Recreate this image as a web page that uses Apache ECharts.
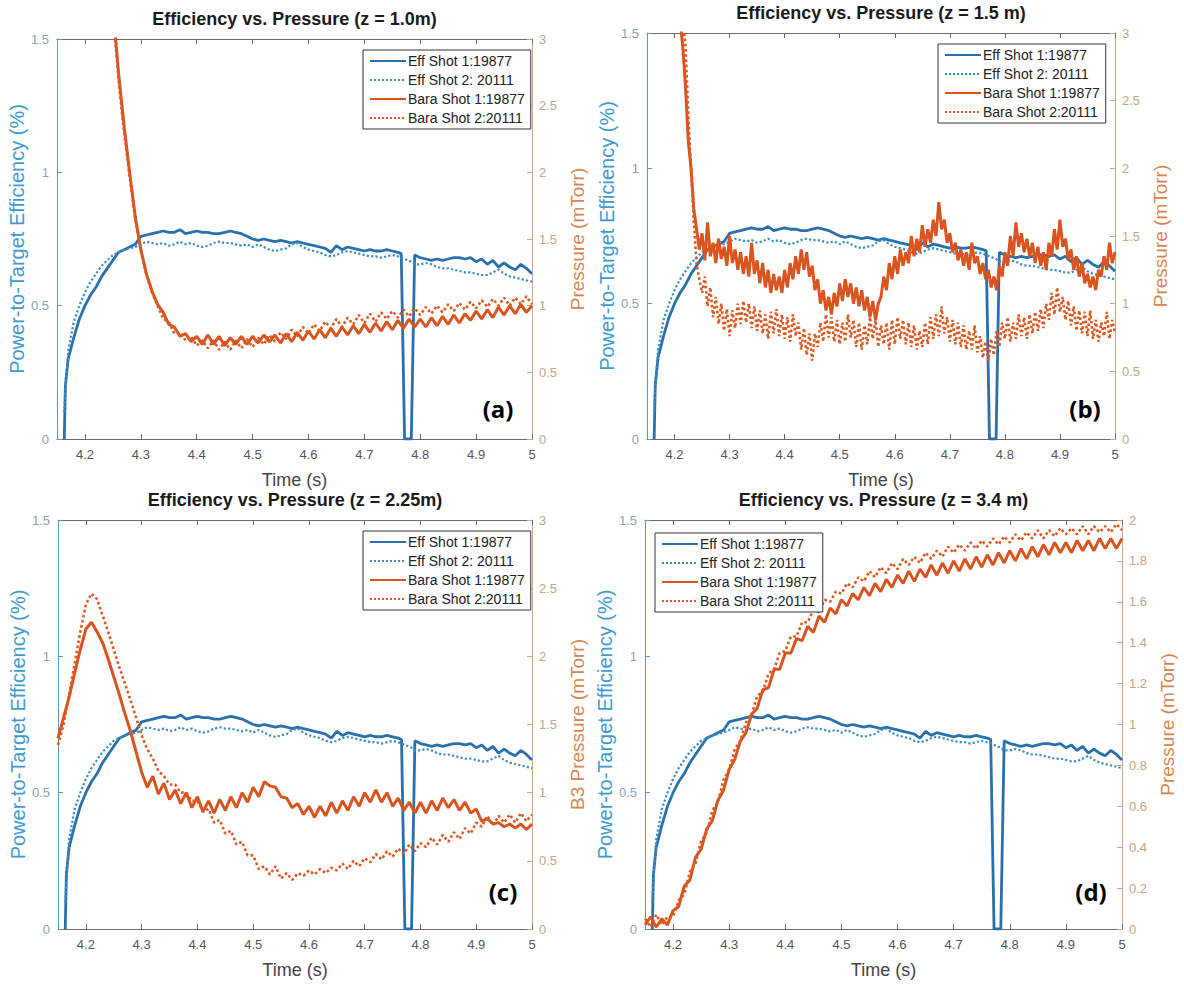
<!DOCTYPE html>
<html><head><meta charset="utf-8">
<script src="https://cdn.jsdelivr.net/npm/echarts@6/dist/echarts.min.js"></script>
<style>html,body{margin:0;padding:0;background:#fff}#c{width:1184px;height:987px}</style>
</head><body><div id="c"></div>
<script>
// ---------- DATA ----------
const xTicks = [4.2,4.3,4.4,4.5,4.6,4.7,4.8,4.9,5];
const seriesNames = ['Eff Shot 1:19877','Eff Shot 2: 20111','Bara Shot 1:19877','Bara Shot 2:20111'];
const panelTitles = ['Efficiency vs. Pressure (z = 1.0m)','Efficiency vs. Pressure (z = 1.5 m)','Efficiency vs. Pressure (z = 2.25m)','Efficiency vs. Pressure (z = 3.4 m)'];
const panelLetters = ['(a)','(b)','(c)','(d)'];
const rightNames = ['Pressure (mTorr)','Pressure (mTorr)','B3 Pressure (mTorr)','Pressure (mTorr)'];
const rightMax = [3,3,3,2];
const rightStep = [0.5,0.5,0.5,0.2];

const effTime = [4.163,4.165,4.17,4.18,4.19,4.20,4.21,4.22,4.23,4.24,4.25,4.26,4.27,4.28,4.29,4.30,4.31,4.32,4.33,4.34,4.35,4.36,4.37,4.38,4.39,4.40,4.41,4.42,4.43,4.44,4.45,4.46,4.47,4.48,4.49,4.50,4.51,4.52,4.53,4.54,4.55,4.56,4.57,4.58,4.59,4.60,4.61,4.62,4.63,4.64,4.65,4.66,4.67,4.68,4.69,4.70,4.71,4.72,4.73,4.74,4.75,4.76,4.766,4.772,4.784,4.79,4.80,4.81,4.82,4.83,4.84,4.85,4.86,4.87,4.88,4.89,4.90,4.91,4.92,4.93,4.94,4.95,4.96,4.97,4.98,4.99,5.00];
const eff1 = [0,0.20,0.30,0.38,0.45,0.50,0.54,0.57,0.61,0.64,0.67,0.70,0.71,0.72,0.73,0.76,0.765,0.77,0.775,0.78,0.775,0.775,0.785,0.77,0.775,0.78,0.775,0.775,0.77,0.77,0.775,0.78,0.775,0.77,0.76,0.75,0.745,0.75,0.745,0.74,0.745,0.74,0.735,0.74,0.735,0.73,0.725,0.72,0.715,0.70,0.725,0.71,0.72,0.715,0.71,0.705,0.71,0.705,0.705,0.71,0.705,0.70,0.695,0,0,0.69,0.68,0.675,0.67,0.675,0.67,0.675,0.68,0.68,0.675,0.68,0.665,0.675,0.655,0.67,0.645,0.66,0.645,0.635,0.655,0.64,0.62];
const eff2 = [0.10,0.18,0.33,0.44,0.50,0.55,0.59,0.62,0.65,0.67,0.69,0.70,0.71,0.715,0.72,0.73,0.74,0.735,0.73,0.735,0.725,0.73,0.74,0.73,0.735,0.725,0.72,0.725,0.735,0.74,0.735,0.735,0.73,0.725,0.73,0.72,0.73,0.72,0.71,0.705,0.71,0.715,0.73,0.735,0.72,0.71,0.705,0.70,0.69,0.685,0.69,0.70,0.705,0.70,0.695,0.69,0.685,0.685,0.68,0.685,0.69,0.685,0.68,0.675,0.665,0.655,0.655,0.66,0.655,0.645,0.64,0.64,0.635,0.63,0.625,0.625,0.62,0.615,0.615,0.625,0.635,0.62,0.61,0.605,0.60,0.595,0.59];

const pTime = [4.15,4.16,4.17,4.18,4.19,4.20,4.21,4.22,4.23,4.24,4.25,4.26,4.27,4.28,4.29,4.30,4.31,4.32,4.33,4.34,4.35,4.36,4.37,4.38,4.39,4.40,4.41,4.42,4.43,4.44,4.45,4.46,4.47,4.48,4.49,4.50,4.51,4.52,4.53,4.54,4.55,4.56,4.57,4.58,4.59,4.60,4.61,4.62,4.63,4.64,4.65,4.66,4.67,4.68,4.69,4.70,4.71,4.72,4.73,4.74,4.75,4.76,4.77,4.78,4.79,4.80,4.81,4.82,4.83,4.84,4.85,4.86,4.87,4.88,4.89,4.90,4.91,4.92,4.93,4.94,4.95,4.96,4.97,4.98,4.99,5.00];

const baraA1 = [null,null,null,null,null,null,null,null,null,
3.6,3.25,2.75,2.35,2.0,1.67,1.42,1.24,1.11,1.01,
0.95,0.86,0.84,0.77,0.79,0.73,0.77,0.71,0.78,0.71,
0.77,0.70,0.76,0.71,0.77,0.71,0.77,0.72,0.78,0.73,
0.78,0.72,0.79,0.73,0.80,0.74,0.81,0.75,0.82,0.76,
0.83,0.77,0.84,0.78,0.85,0.79,0.86,0.80,0.87,0.81,
0.88,0.82,0.89,0.83,0.90,0.84,0.90,0.84,0.91,0.85,
0.92,0.86,0.93,0.87,0.94,0.89,0.96,0.90,0.97,0.91,
0.99,0.93,1.00,0.94,1.01,0.95,1.00];
const baraA2 = [null,null,null,null,null,null,null,null,null,
3.5,3.2,2.7,2.3,1.97,1.65,1.41,1.23,1.10,1.00,
0.90,0.88,0.79,0.80,0.74,0.77,0.70,0.74,0.68,0.74,
0.67,0.73,0.67,0.74,0.68,0.75,0.69,0.76,0.71,0.78,
0.73,0.80,0.75,0.82,0.77,0.84,0.79,0.86,0.81,0.88,
0.83,0.90,0.84,0.91,0.86,0.93,0.87,0.94,0.88,0.95,
0.90,0.96,0.91,0.97,0.92,0.98,0.93,0.99,0.94,1.00,
0.95,1.01,0.96,1.02,0.97,1.03,0.98,1.04,0.99,1.05,
1.00,1.06,1.00,1.06,1.01,1.07,1.01];

const tB = [4.200,4.205,4.210,4.215,4.220,4.225,4.230,4.235,4.240,4.245,4.250,4.255,4.260,4.265,4.270,4.275,4.280,4.285,4.290,4.295,
4.300,4.305,4.310,4.315,4.320,4.325,4.330,4.335,4.340,4.345,4.350,4.355,4.360,4.365,4.370,4.375,4.380,4.385,4.390,4.395,
4.400,4.405,4.410,4.415,4.420,4.425,4.430,4.435,4.440,4.445,4.450,4.455,4.460,4.465,4.470,4.475,4.480,4.485,4.490,4.495,
4.500,4.505,4.510,4.515,4.520,4.525,4.530,4.535,4.540,4.545,4.550,4.555,4.560,4.565,4.570,4.575,4.580,4.585,4.590,4.595,
4.600,4.605,4.610,4.615,4.620,4.625,4.630,4.635,4.640,4.645,4.650,4.655,4.660,4.665,4.670,4.675,4.680,4.685,4.690,4.695,
4.700,4.705,4.710,4.715,4.720,4.725,4.730,4.735,4.740,4.745,4.750,4.755,4.760,4.765,4.770,4.775,4.780,4.785,4.790,4.795,
4.800,4.805,4.810,4.815,4.820,4.825,4.830,4.835,4.840,4.845,4.850,4.855,4.860,4.865,4.870,4.875,4.880,4.885,4.890,4.895,
4.900,4.905,4.910,4.915,4.920,4.925,4.930,4.935,4.940,4.945,4.950,4.955,4.960,4.965,4.970,4.975,4.980,4.985,4.990,4.995,5.000];
const baraB1 = [3.6,3.3,3.1,2.9,2.6,2.2,2.0,1.7,1.55,1.40,1.52,1.32,1.60,1.35,1.45,1.30,1.48,1.33,1.42,1.28,
1.50,1.30,1.40,1.25,1.38,1.22,1.35,1.20,1.45,1.22,1.32,1.15,1.30,1.12,1.25,1.08,1.22,1.10,1.20,1.08,
1.25,1.12,1.30,1.18,1.35,1.22,1.40,1.25,1.38,1.20,1.28,1.10,1.18,1.00,1.10,0.95,1.05,0.92,1.08,0.98,
1.15,1.02,1.18,1.05,1.15,1.00,1.12,0.98,1.10,0.95,1.05,0.90,1.02,0.88,1.00,1.05,1.20,1.10,1.30,1.18,
1.35,1.22,1.40,1.28,1.38,1.30,1.50,1.35,1.48,1.38,1.58,1.42,1.55,1.45,1.62,1.50,1.75,1.55,1.62,1.45,
1.52,1.38,1.45,1.32,1.40,1.28,1.38,1.25,1.45,1.30,1.35,1.22,1.30,1.18,1.25,1.12,1.20,1.10,1.28,1.20,
1.38,1.28,1.50,1.35,1.60,1.42,1.52,1.38,1.48,1.35,1.45,1.30,1.42,1.28,1.38,1.25,1.45,1.35,1.55,1.40,
1.62,1.42,1.48,1.32,1.40,1.25,1.35,1.20,1.30,1.15,1.22,1.12,1.20,1.10,1.25,1.20,1.35,1.25,1.45,1.30,1.38];
const baraB2 = [3.8,3.5,3.3,3.1,2.9,2.4,2.0,1.6,1.30,1.18,1.08,1.20,0.98,1.12,0.90,1.05,0.85,1.00,0.80,0.96,
0.76,0.95,0.82,1.00,0.85,1.02,0.86,1.00,0.82,0.98,0.80,0.95,0.78,0.92,0.74,0.94,0.78,0.96,0.76,0.92,
0.74,0.90,0.72,0.92,0.76,0.86,0.66,0.82,0.62,0.78,0.58,0.78,0.68,0.86,0.72,0.92,0.75,0.90,0.72,0.88,
0.70,0.86,0.72,0.92,0.75,0.88,0.68,0.86,0.66,0.84,0.70,0.90,0.74,0.88,0.68,0.84,0.70,0.86,0.66,0.88,
0.70,0.90,0.74,0.88,0.70,0.86,0.68,0.84,0.66,0.80,0.68,0.86,0.70,0.90,0.74,0.92,0.76,0.98,0.78,0.90,
0.72,0.88,0.70,0.86,0.68,0.84,0.66,0.80,0.66,0.84,0.64,0.76,0.60,0.72,0.58,0.74,0.62,0.80,0.68,0.86,
0.74,0.90,0.72,0.86,0.74,0.92,0.76,0.90,0.74,0.92,0.78,0.94,0.80,0.96,0.82,1.00,0.88,1.08,0.92,1.12,
0.94,1.05,0.88,1.02,0.84,0.98,0.80,0.95,0.78,0.94,0.76,0.95,0.74,0.88,0.72,0.86,0.76,0.94,0.74,0.88,0.78];

const baraC1 = [1.40,1.55,1.70,1.88,2.05,2.20,2.25,2.18,2.10,1.98,
1.85,1.72,1.58,1.45,1.30,1.15,1.04,1.12,0.99,1.07,
0.95,1.02,0.92,1.00,0.89,0.97,0.86,0.94,0.85,0.95,
0.87,0.97,0.89,1.00,0.93,1.04,0.97,1.08,1.05,1.04,
0.97,0.96,0.89,0.92,0.84,0.90,0.82,0.90,0.83,0.93,
0.85,0.94,0.87,0.97,0.90,1.00,0.93,1.02,0.93,1.00,
0.90,0.96,0.87,0.93,0.85,0.93,0.85,0.94,0.87,0.96,
0.89,0.95,0.87,0.93,0.85,0.88,0.79,0.81,0.77,0.78,
0.75,0.77,0.74,0.77,0.73,0.77];
const baraC2 = [1.35,1.50,1.72,1.95,2.18,2.38,2.46,2.42,2.30,2.18,
2.05,1.92,1.80,1.68,1.55,1.42,1.32,1.25,1.16,1.12,
1.06,1.06,1.00,1.00,0.94,0.94,0.86,0.88,0.78,0.80,
0.70,0.72,0.62,0.64,0.54,0.54,0.44,0.46,0.40,0.46,
0.37,0.41,0.36,0.41,0.39,0.43,0.40,0.44,0.41,0.45,
0.43,0.48,0.44,0.50,0.46,0.52,0.49,0.55,0.51,0.57,
0.53,0.59,0.55,0.62,0.57,0.63,0.60,0.67,0.62,0.69,
0.64,0.71,0.66,0.74,0.70,0.78,0.75,0.83,0.76,0.83,
0.78,0.84,0.78,0.85,0.79,0.84];

const baraD1 = [0.02,0.06,0.01,0.05,0.02,0.09,0.11,0.21,0.24,0.35,
0.39,0.49,0.53,0.63,0.68,0.78,0.83,0.92,0.96,1.05,
1.08,1.17,1.18,1.27,1.27,1.35,1.35,1.42,1.41,1.48,
1.45,1.53,1.50,1.57,1.54,1.61,1.58,1.64,1.61,1.67,
1.63,1.69,1.65,1.71,1.67,1.73,1.69,1.75,1.70,1.76,
1.72,1.78,1.73,1.79,1.74,1.80,1.75,1.81,1.76,1.82,
1.77,1.83,1.78,1.84,1.79,1.85,1.80,1.86,1.81,1.87,
1.82,1.88,1.83,1.89,1.84,1.89,1.84,1.90,1.85,1.90,
1.85,1.91,1.86,1.91,1.86,1.91];
const baraD2 = [0.05,0.01,0.07,0.02,0.06,0.06,0.14,0.17,0.28,0.32,
0.43,0.47,0.58,0.62,0.73,0.78,0.88,0.92,1.01,1.05,
1.14,1.16,1.25,1.27,1.35,1.36,1.43,1.43,1.50,1.50,
1.56,1.55,1.61,1.60,1.65,1.64,1.69,1.67,1.72,1.70,
1.75,1.72,1.77,1.74,1.79,1.76,1.81,1.78,1.82,1.79,
1.84,1.81,1.85,1.82,1.87,1.84,1.88,1.85,1.89,1.86,
1.90,1.87,1.91,1.88,1.92,1.89,1.93,1.90,1.94,1.91,
1.95,1.91,1.95,1.92,1.96,1.93,1.96,1.93,1.97,1.93,
1.97,1.94,1.97,1.94,1.98,1.95];

// ---------- LAYOUT / STYLE ----------
const FONT = '"Liberation Sans", Arial, sans-serif';
const grids = [
  {left:57, top:39, width:475, height:400},
  {left:647, top:33, width:468, height:406},
  {left:58, top:520, width:474, height:409},
  {left:645, top:520, width:477, height:409}
];
const legendPos = [{left:363, top:50},{left:938, top:44},{left:363, top:531},{left:655, top:533}];
const letterPos = [[498,408],[1085,408],[503,891],[1091,891]];

const C_EFF1 = '#2a70ad', C_EFF2 = '#3b8dc2', C_BAR1 = '#d9541e', C_BAR2 = '#dc5a22';
const LEFT_AX = '#5f95bd', RIGHT_AX = '#c9a888';

const pair = (t, v) => t.map((x, i) => [x, v[i] === undefined ? null : v[i]]);
const pressure = [
  [pair(pTime, baraA1), pair(pTime, baraA2)],
  [pair(tB, baraB1), pair(tB, baraB2)],
  [pair(pTime, baraC1), pair(pTime, baraC2)],
  [pair(pTime, baraD1), pair(pTime, baraD2)]
];

const option = {
  backgroundColor:'#fff',
  animation:false,
  grid: grids.map(g => Object.assign({containLabel:false}, g)),
  xAxis: [], yAxis: [], series: [], legend: [], graphic: []
};

grids.forEach((g, i) => {
  option.xAxis.push({
    type:'value', gridIndex:i, position:'bottom', min:4.15, max:5,
    axisLine:{show:true, onZero:false, lineStyle:{color:'#6a6a6a', width:1}},
    axisTick:{show:true, inside:true, length:5, customValues:xTicks, lineStyle:{color:'#6a6a6a'}},
    axisLabel:{show:true, customValues:xTicks, color:'#555', fontSize:13, fontFamily:FONT, margin:9},
    splitLine:{show:false},
    name:'Time (s)', nameLocation:'middle', nameGap:32, nameMoveOverlap:false,
    nameTextStyle:{color:'#444', fontSize:18, fontFamily:FONT}
  });
  option.xAxis.push({
    type:'value', gridIndex:i, position:'top', min:4.15, max:5,
    axisLine:{show:true, onZero:false, lineStyle:{color:'#6a6a6a', width:1}},
    axisTick:{show:true, inside:true, length:5, customValues:xTicks, lineStyle:{color:'#6a6a6a'}},
    axisLabel:{show:false}, splitLine:{show:false}
  });
  option.yAxis.push({
    type:'value', gridIndex:i, position:'left', min:0, max:1.5, interval:0.5,
    axisLine:{show:true, onZero:false, lineStyle:{color:LEFT_AX, width:1}},
    axisTick:{show:true, inside:true, length:5, lineStyle:{color:LEFT_AX}},
    axisLabel:{color:'#8aa2b4', fontSize:13, fontFamily:FONT, margin:8},
    splitLine:{show:false},
    name:'Power-to-Target Efficiency (%)', nameLocation:'middle', nameGap:30, nameMoveOverlap:false,
    nameTextStyle:{color:'#3e9bd0', fontSize:20, fontFamily:FONT}
  });
  option.yAxis.push({
    type:'value', gridIndex:i, position:'right', min:0, max:rightMax[i], interval:rightStep[i],
    axisLine:{show:true, onZero:false, lineStyle:{color:RIGHT_AX, width:1}},
    axisTick:{show:true, inside:true, length:5, lineStyle:{color:RIGHT_AX}},
    axisLabel:{color:'#c6a486', fontSize:13, fontFamily:FONT, margin:7},
    splitLine:{show:false}
  });
  const xb = 2*i, yl = 2*i, yr = 2*i+1;
  option.series.push(
    {name:seriesNames[0], type:'line', xAxisIndex:xb, yAxisIndex:yl, data:pair(effTime, eff1), symbol:'none', showSymbol:false, clip:true,
      lineStyle:{color:C_EFF1, width:2.8}, itemStyle:{color:C_EFF1}},
    {name:seriesNames[1], type:'line', xAxisIndex:xb, yAxisIndex:yl, data:pair(effTime, eff2), symbol:'none', showSymbol:false, clip:true,
      lineStyle:{color:C_EFF2, width:2.2, type:'dotted'}, itemStyle:{color:C_EFF2}},
    {name:seriesNames[2], type:'line', xAxisIndex:xb, yAxisIndex:yr, data:pressure[i][0], symbol:'none', showSymbol:false, clip:true, connectNulls:false,
      lineStyle:{color:C_BAR1, width:3}, itemStyle:{color:C_BAR1}},
    {name:seriesNames[3], type:'line', xAxisIndex:xb, yAxisIndex:yr, data:pressure[i][1], symbol:'none', showSymbol:false, clip:true, connectNulls:false,
      lineStyle:{color:C_BAR2, width:2.6, type:'dotted'}, itemStyle:{color:C_BAR2}}
  );
  option.legend.push({
    left:legendPos[i].left, top:legendPos[i].top, orient:'vertical', data:seriesNames.slice(),
    backgroundColor:'#fff', borderColor:'#333', borderWidth:1, borderRadius:0,
    padding:[4,6,4,6], itemGap:5, itemWidth:36, itemHeight:14, selectedMode:false,
    itemStyle:{opacity:0},
    textStyle:{fontSize:14, color:'#222', fontFamily:FONT, padding:[0,0,0,-3]}
  });
  option.graphic.push({
    type:'text', x: g.left + g.width/2, y: g.top - 20,
    style:{text:panelTitles[i], fill:'#1a1a1a', font:'bold 18px ' + FONT, textAlign:'center', textVerticalAlign:'middle'}
  });
  option.graphic.push({
    type:'text', x: letterPos[i][0], y: letterPos[i][1],
    style:{text:panelLetters[i], fill:'#000', font:'bold 24px "Open Sans", ' + FONT, textAlign:'center', textVerticalAlign:'middle'}, z:100
  });
  // right-axis title, rotated to read bottom-to-top, centred on the plot height
  option.graphic.push({
    type:'text', x: g.left + g.width + 45, y: g.top + g.height/2, rotation: Math.PI/2,
    style:{text:rightNames[i], fill:'#d88550', font:'19px ' + FONT, textAlign:'center', textVerticalAlign:'middle'}
  });
});

const chart = echarts.init(document.getElementById('c'), null, {renderer:'svg'});
chart.setOption(option);
</script>
</body></html>
